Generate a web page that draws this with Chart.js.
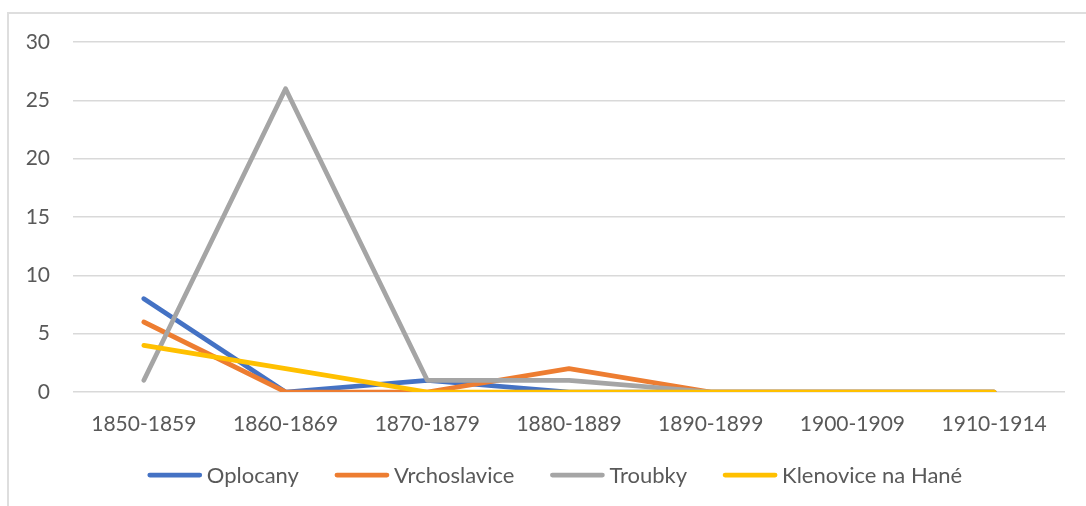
<!DOCTYPE html>
<html>
<head>
<meta charset="utf-8">
<script src="https://cdn.jsdelivr.net/npm/chart.js@4/dist/chart.umd.min.js"></script>
<style>
html,body{margin:0;padding:0;background:#fff;}
#wrap{position:relative;width:1086px;height:506px;overflow:hidden;}
#frame{position:absolute;left:7px;top:12px;width:1100px;height:500px;border:2px solid #dedede;box-sizing:border-box;}
canvas{position:absolute;left:0;top:0;}
</style>
</head>
<body>
<div id="wrap"><div id="frame"></div><canvas id="c" width="1086" height="506"></canvas></div>
<script>
const categories = ["1850-1859","1860-1869","1870-1879","1880-1889","1890-1899","1900-1909","1910-1914"];
const oplocany = [8, 0, 1, 0, 0, 0, 0];
const vrchoslavice = [6, 0, 0, 2, 0, 0, 0];
const troubky = [1, 26, 1, 1, 0, 0, 0];
const klenovice = [4, 2, 0, 0, 0, 0, 0];
const seriesNames = ["Oplocany","Vrchoslavice","Troubky","Klenovice na Hané"];
const yTicks = [0, 5, 10, 15, 20, 25, 30];

const colors = ["#4472C4","#ED7D31","#A5A5A5","#FFC000"];
const FONT = "Lato, 'Open Sans', sans-serif";
const TXT = "#595959";

function ds(i, data){
  return {label: seriesNames[i], data: data, borderColor: colors[i], backgroundColor: colors[i],
    borderWidth: 4.75, pointRadius: 0, pointHoverRadius: 0, tension: 0,
    borderCapStyle: 'round', borderJoinStyle: 'round', order: 3 - i, fill: false};
}

const legendPlugin = {
  id: 'excelLegend',
  afterDraw(chart){
    const ctx = chart.ctx;
    ctx.save();
    ctx.font = "22px " + FONT;
    ctx.textBaseline = 'middle';
    const items = chart.data.datasets.map(d => ({d, w: ctx.measureText(d.label).width}));
    const lineLen = 54, gapText = 5, gapItem = 36;
    const total = items.reduce((a, it) => a + lineLen + gapText + it.w, 0) + gapItem * (items.length - 1);
    const cx = 555;
    let x = cx - total / 2;
    const y = 475;
    items.forEach(({d, w}) => {
      ctx.strokeStyle = d.borderColor;
      ctx.lineWidth = 4.75;
      ctx.lineCap = 'round';
      ctx.beginPath();
      ctx.moveTo(x + 2, y);
      ctx.lineTo(x + lineLen - 2, y);
      ctx.stroke();
      x += lineLen + gapText;
      ctx.fillStyle = TXT;
      ctx.fillText(d.label, x, y + 1);
      x += w + gapItem;
    });
    ctx.restore();
  }
};

new Chart(document.getElementById('c'), {
  type: 'line',
  data: {
    labels: categories,
    datasets: [ds(0, oplocany), ds(1, vrchoslavice), ds(2, troubky), ds(3, klenovice)]
  },
  options: {
    responsive: false,
    animation: false,
    events: [],
    layout: {padding: {left: 0, right: 21, top: 42, bottom: 0}},
    plugins: {legend: {display: false}, tooltip: {enabled: false}},
    scales: {
      x: {
        offset: true,
        grid: {display: false, drawTicks: false},
        border: {display: false},
        ticks: {color: TXT, font: {family: FONT, size: 21}, padding: 20, maxRotation: 0, autoSkip: false},
        afterFit(s){ s.height = 114; }
      },
      y: {
        min: 0, max: 30,
        afterBuildTicks(s){ s.ticks = yTicks.map(v => ({value: v})); },
        grid: {color: '#d9d9d9', lineWidth: 1.5, drawTicks: false},
        border: {display: false},
        ticks: {color: TXT, font: {family: FONT, size: 21}, padding: 23},
        afterFit(s){ s.width = 73; }
      }
    }
  },
  plugins: [legendPlugin]
});
</script>
</body>
</html>
